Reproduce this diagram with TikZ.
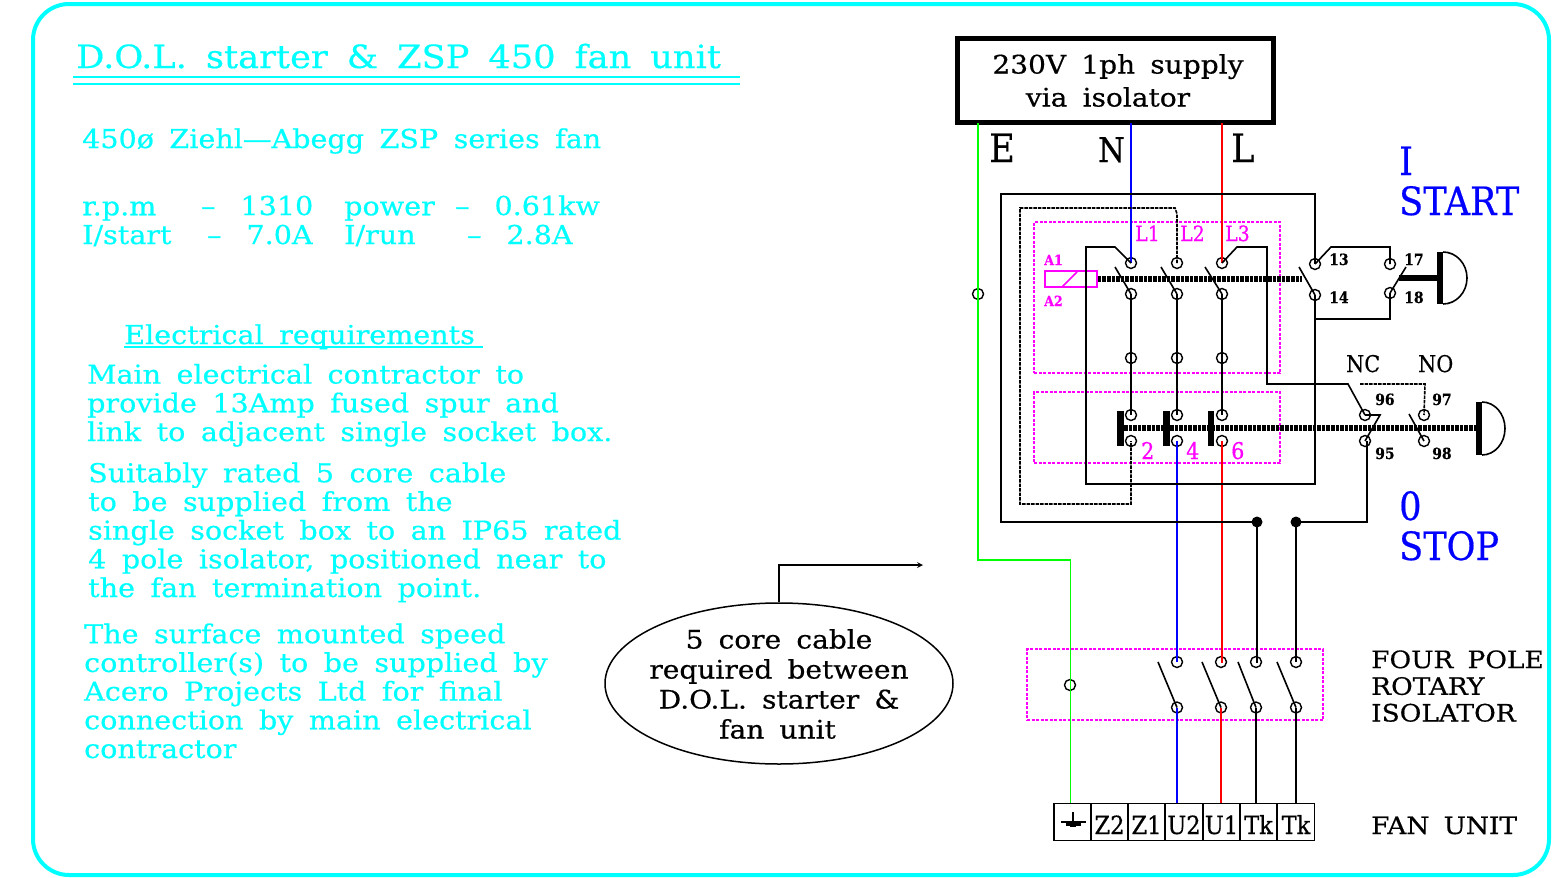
\documentclass[tikz,border=0pt]{standalone}
\usepackage{fontspec}
\usepackage{tikz}
\usetikzlibrary{arrows,shapes.geometric}

\setmainfont{DejaVu Serif}[WordSpace=1.7,FakeStretch=1.1,FakeBold=0.5]
\newfontfamily\capfont{DejaVu Serif}[FakeStretch=0.9,FakeBold=0.5]

\definecolor{cadcyan}{RGB}{0,255,255}
\definecolor{cadmag}{RGB}{255,0,255}
\definecolor{cadgreen}{RGB}{0,255,0}
\definecolor{cadblue}{RGB}{0,0,255}
\definecolor{cadred}{RGB}{255,0,0}

\begin{document}
\begin{tikzpicture}[x=1pt,y=-1pt,>=stealth',
  term/.style={circle,draw,inner sep=0pt,minimum size=11pt,line width=1.4pt},
  dot/.style={circle,fill=black,inner sep=0pt,minimum size=11pt},
  wire/.style={line width=1.6pt},
  dashwire/.style={line width=1.6pt,dash pattern=on 3.5pt off 1pt},
  magbox/.style={draw=cadmag,line width=1.4pt,dash pattern=on 3pt off 1.5pt},
  link/.style={line width=6.5pt,dash pattern=on 3.6pt off 1pt},
  info/.style={anchor=base west,inner sep=0pt,align=left,text=cadcyan,
    font=\fontsize{26}{28.7}\selectfont},
  label/.style={anchor=base west,inner sep=0pt,align=left,
    font=\fontsize{24}{26.7}\selectfont},
  big/.style={anchor=base west,inner sep=0pt,align=left,
    font=\capfont\fontsize{39}{40}\selectfont},
  magtext/.style={anchor=base west,inner sep=0pt,text=cadmag,
    font=\capfont\fontsize{21}{21}\selectfont},
  magsmall/.style={anchor=base west,inner sep=0pt,text=cadmag,
    font=\capfont\bfseries\fontsize{14}{14}\selectfont},
  num/.style={anchor=base west,inner sep=0pt,
    font=\capfont\bfseries\fontsize{15.5}{15.5}\selectfont},
  cell/.style={anchor=base,inner sep=0pt,font=\capfont\fontsize{25}{25}\selectfont},
  strip/.style={rectangle,draw,line width=1.6pt,minimum width=37.3pt,minimum height=37pt,inner sep=0pt}]

  \useasboundingbox (0,0) rectangle (1558,878);

  % frame and notes
  \draw[cadcyan,line width=4pt,rounded corners=36pt] (33,4) rectangle (1549,875);

  \node[info,font=\fontsize{32}{32}\selectfont] (title) at (76,68) {D.O.L. starter \& ZSP 450 fan unit};
  \draw[cadcyan,line width=1.5pt] (73,77) -- (740,77);
  \draw[cadcyan,line width=1.5pt] (73,84) -- (740,84);

  \node[info] (fan) at (82,148) {450ø Ziehl---Abegg ZSP series fan};
  \node[info] (rpm) at (82,244) {r.p.m\\I/start};
  \node[info] (rpmval) at (201,215) {--\hspace{25pt}1310};
  \node[info] (startval) at (207,244) {--\hspace{25pt}7.0A};
  \node[info] (power) at (344,244) {power\\I/run};
  \node[info] (powerval) at (455,215) {--\hspace{25pt}0.61kw};
  \node[info] (runval) at (467,244) {--\hspace{25pt}2.8A};

  \node[info] (req) at (124,344) {Electrical requirements};
  \draw[cadcyan,line width=1.5pt] (124,347) -- (483,347);

  \node[info] (main) at (87,441) {Main electrical contractor to\\provide 13Amp fused spur and\\link to adjacent single socket box.};
  \node[info] (cable) at (88,597) {Suitably rated 5 core cable\\to be supplied from the\\single socket box to an IP65 rated\\4 pole isolator, positioned near to\\the fan termination point.};
  \node[info] (speed) at (84,758) {The surface mounted speed\\controller(s) to be supplied by\\Acero Projects Ltd for final\\connection by main electrical\\contractor};

  % note on the cable
  \node[ellipse,draw,line width=1.5pt,minimum width=348pt,minimum height=161pt,inner sep=0pt] (note) at (779,683.5) {};
  \node[inner sep=0pt,align=center,font=\fontsize{25.5}{30}\selectfont] (notetext) at (779,684) {5 core cable\\required between\\D.O.L. starter \&\hspace*{12pt}\\fan unit\hspace*{3pt}};
  \coordinate (notebend) at (779,565);
  \coordinate (noteend) at (923,565);
  \draw[wire,->,>=stealth] (note.north) -- (notebend) -- (noteend);

  % supply
  \node[rectangle,draw,line width=5pt,minimum width=316pt,minimum height=84pt,inner sep=0pt,align=center,
    font=\fontsize{25.5}{33}\selectfont] (supply) at (1115.5,80.5) {\hspace*{5pt}230V 1ph supply\\via isolator\hspace*{15pt}};
  \node[big] (E) at (989,162) {E};
  \node[big,font=\capfont\fontsize{34}{34}\selectfont] (N) at (1098,162) {N};
  \node[big] (L) at (1231,162) {L};
  \node[big,text=cadblue] (start) at (1399,215) {I\\START};
  \node[big,text=cadblue] (stop) at (1399,560) {0\\STOP};

  % contactor boxes
  \node[rectangle,magbox,minimum width=246pt,minimum height=151pt,inner sep=0pt] (kbox) at (1157,297.5) {};
  \node[rectangle,magbox,minimum width=246pt,minimum height=71pt,inner sep=0pt] (olbox) at (1157,427.5) {};
  \node[magtext] (L1) at (1135,241) {L1};
  \node[magtext] (L2) at (1180,241) {L2};
  \node[magtext] (L3) at (1225,241) {L3};
  \node[magtext,font=\capfont\fontsize{23}{23}\selectfont] (T2) at (1141,459) {2};
  \node[magtext,font=\capfont\fontsize{23}{23}\selectfont] (T4) at (1186,459) {4};
  \node[magtext,font=\capfont\fontsize{23}{23}\selectfont] (T6) at (1231,459) {6};
  \node[magsmall] (A1) at (1044,265) {A1};
  \node[magsmall] (A2) at (1044,306) {A2};

  % terminals
  \node[term] (a1) at (1131,263) {};
  \node[term] (a2) at (1131,294) {};
  \node[term] (a3) at (1131,358) {};
  \node[term] (a4) at (1131,415) {};
  \node[term] (a5) at (1131,441) {};
  \node[term] (b1) at (1177,263) {};
  \node[term] (b2) at (1177,294) {};
  \node[term] (b3) at (1177,358) {};
  \node[term] (b4) at (1177,415) {};
  \node[term] (b5) at (1177,441) {};
  \node[term] (c1) at (1222,263) {};
  \node[term] (c2) at (1222,294) {};
  \node[term] (c3) at (1222,358) {};
  \node[term] (c4) at (1222,415) {};
  \node[term] (c5) at (1222,441) {};
  \node[term] (t13) at (1315,264) {};
  \node[term] (t14) at (1315,295) {};
  \node[term] (t17) at (1390,264) {};
  \node[term] (t18) at (1390,293) {};
  \node[term] (t96) at (1365,415) {};
  \node[term] (t95) at (1365,441) {};
  \node[term] (t97) at (1424,415) {};
  \node[term] (t98) at (1424,441) {};
  \node[term] (pe) at (978,294) {};
  \node[dot] (d1) at (1257,522) {};
  \node[dot] (d2) at (1296,522) {};

  \node[num] (n13) at (1329,265) {13};
  \node[num] (n14) at (1329,303) {14};
  \node[num] (n17) at (1404,265) {17};
  \node[num] (n18) at (1404,303) {18};
  \node[num] (n96) at (1375,405) {96};
  \node[num] (n97) at (1432,405) {97};
  \node[num] (n95) at (1375,459) {95};
  \node[num] (n98) at (1432,459) {98};
  \node[label,font=\capfont\fontsize{23}{23}\selectfont] (NC) at (1346,372) {NC};
  \node[label,font=\capfont\fontsize{23}{23}\selectfont] (NO) at (1418,372) {NO};

  % coil
  \node[rectangle,draw=cadmag,line width=1.5pt,minimum width=52pt,minimum height=16pt,inner sep=0pt] (coil) at (1071,279) {};
  \coordinate (coila) at (1062,287);
  \coordinate (coilb) at (1077,272);
  \draw[cadmag,line width=1.5pt] (coila) -- (coilb);

  % isolator
  \node[rectangle,magbox,minimum width=296pt,minimum height=71pt,inner sep=0pt] (isobox) at (1175,684.5) {};
  \node[term] (pe2) at (1070,685) {};
  \node[term] (i1) at (1177,662) {};
  \node[term] (i2) at (1221,662) {};
  \node[term] (i3) at (1256,662) {};
  \node[term] (i4) at (1296,662) {};
  \node[term] (o1) at (1177,707.5) {};
  \node[term] (o2) at (1221,707.5) {};
  \node[term] (o3) at (1256,707.5) {};
  \node[term] (o4) at (1296,707.5) {};
  \node[label] (iso) at (1371,721.5) {FOUR POLE\\ROTARY\\ISOLATOR};

  % fan terminal strip
  \node[strip] (s0) at (1072.5,822) {};
  \node[strip] (s1) at (1109.5,822) {};
  \node[strip] (s2) at (1146.5,822) {};
  \node[strip] (s3) at (1184,822) {};
  \node[strip] (s4) at (1221.5,822) {};
  \node[strip] (s5) at (1258.5,822) {};
  \node[strip] (s6) at (1296,822) {};
  \node[cell] (z2) at (1109.5,834) {Z2};
  \node[cell] (z1) at (1146.5,834) {Z1};
  \node[cell] (u2) at (1184,834) {U2};
  \node[cell] (u1) at (1221.5,834) {U1};
  \node[cell] (tk1) at (1258.5,834) {Tk};
  \node[cell] (tk2) at (1296,834) {Tk};
  \node[label] (fanunit) at (1371,834) {FAN UNIT};
  \draw[line width=1.6pt] (1073,812) -- (1073,823);
  \draw[line width=2.2pt] (1061,822) -- (1086,822);
  \draw[line width=2.2pt] (1066,824.5) -- (1081,824.5);
  \draw[line width=1.6pt] (1070,826.5) -- (1076,826.5);

  % phase and earth wires
  \coordinate (e0) at (978,123);
  \coordinate (e1) at (978,560);
  \coordinate (e2) at (1070.5,560);
  \coordinate (e3) at (1070.5,803);
  \coordinate (n0) at (1131,123);
  \coordinate (l0) at (1222,123);
  \coordinate (u2top) at (1177,803);
  \coordinate (u1top) at (1221,803);
  \coordinate (tk1top) at (1256,803);
  \coordinate (tk2top) at (1296,803);
  \draw[cadgreen,wire] (e0) -- (e1) -- (e2) -- (e3);
  \draw[cadblue,wire] (n0) -- (a1.center);
  \draw[cadred,wire] (l0) -- (c1.center);
  \draw[cadblue,wire] (b5.center) -- (i1.center);
  \draw[cadred,wire] (c5.center) -- (1222,662) -- (i2.center);
  \draw[cadblue,wire] (o1.center) -- (u2top);
  \draw[cadred,wire] (o2.center) -- (u1top);

  % control wiring
  \draw[wire] (a2.center) -- (a4.center);
  \draw[wire] (b2.center) -- (b4.center);
  \draw[wire] (c2.center) -- (c4.center);
  \draw[wire] (d1.center) -- (1257,662) -- (i3.center);
  \draw[wire] (d2.center) -- (i4.center);
  \draw[wire] (o3.center) -- (tk1top);
  \draw[wire] (o4.center) -- (tk2top);

  \draw[wire] (d1.center) -- (1001,522) -- (1001,194) -- (1315,194) -- (t13.center);
  \draw[wire] (t14.center) -- (1315,484) -- (1086,484) -- (1086,247) -- (1115,247) -- (a1.center);
  \draw[wire] (c1.center) -- (1237,247) -- (1267,247) -- (1267,384) -- (1348,384) -- (t96.center);
  \draw[wire] (t13.center) -- (1331,247) -- (1390,247) -- (t17.center);
  \draw[wire] (t18.center) -- (1390,319) -- (1315,319);
  \draw[wire] (d2.center) -- (1367,522) -- (1367,441);
  \draw[dashwire] (1360,384) -- (1425,384) -- (t97.center);
  \draw[dashwire] (b1.center) -- (1177,214) -- (1175,208) -- (1020,208) -- (1020,504) -- (1131,504) -- (a5.center);

  % contact blades
  \draw[wire] (a2.center) -- (1115,267);
  \draw[wire] (b2.center) -- (1161,267);
  \draw[wire] (c2.center) -- (1205,267);
  \draw[wire] (t14.center) -- (1299,267);
  \draw[wire] (t18.center) -- (1406,267);
  \draw[wire] (t96.center) -- (1380,415) -- (t95.center);
  \draw[wire] (t98.center) -- (1409,414);
  \draw[wire] (o1.center) -- (1158,662);
  \draw[wire] (o2.center) -- (1202,662);
  \draw[wire] (o3.center) -- (1238,662);
  \draw[wire] (o4.center) -- (1277,662);

  % operating links and push buttons
  \draw[link] (coil.east) -- (1302,279);
  \draw[link] (1124,428) -- (1476,428);
  \draw[line width=6pt] (1399,278) -- (1437,278);
  \draw[line width=6.5pt] (1120.5,411) -- (1120.5,446);
  \draw[line width=6.5pt] (1166.5,411) -- (1166.5,446);
  \draw[line width=6.5pt] (1211,411) -- (1211,446);
  \draw[line width=6.5pt] (1440,252) -- (1440,304);
  \draw[line width=6.5pt] (1479,402) -- (1479,455);
  \draw[wire] (1443,252) arc[start angle=-90,end angle=90,x radius=24,y radius=26];
  \draw[wire] (1482,402) arc[start angle=-90,end angle=90,x radius=23,y radius=26.5];

\end{tikzpicture}
\end{document}
